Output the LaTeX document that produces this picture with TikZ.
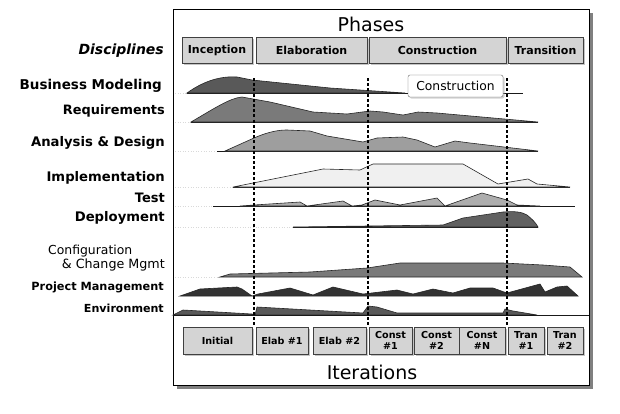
\documentclass[tikz,border=0pt]{standalone}
\usepackage{fontspec}
\setmainfont{DejaVu Sans}
\usetikzlibrary{shadows}
\begin{document}
\begin{tikzpicture}[x=1pt,y=-1pt,
  fs/.style={font=\fontsize{#1}{#1}\selectfont},
  fsb/.style={font=\bfseries\fontsize{#1}{#1}\selectfont},
  phasebox/.style={draw=black!75, line width=0.9pt, fill=black!17, minimum height=26pt, inner sep=0pt,
    fsb=11, drop shadow={shadow xshift=1.5pt,shadow yshift=-2pt,fill=black!45}},
  iterbox/.style={draw=black!75, line width=0.9pt, fill=black!17, minimum height=27pt, inner sep=0pt,
    align=center, font=\bfseries\fontsize{9.6}{10.5}\selectfont,
    drop shadow={shadow xshift=1.5pt,shadow yshift=-2pt,fill=black!45}},
  disc/.style={anchor=east, inner sep=0pt},
  vdash/.style={dash pattern=on 3pt off 2.2pt, line width=1.4pt},
  curve/.style={draw=black!85, line width=0.6pt},
  baseln/.style={draw=black!90, line width=0.8pt},
  faint/.style={draw=black!15, dotted, line width=0.6pt}
]
\useasboundingbox (0,0) rectangle (620,413);
% main frame with shadow
\fill[black!50] (177,13) rectangle (593,389);
\draw[line width=1pt, fill=white] (173,9) rectangle (589,385);

% titles
\node[fs=19] (phases) at (371,24) {Phases};
\node[fs=19] (iters) at (372,372) {Iterations};

% phase boxes
\node[phasebox, minimum width=70pt] (inc) at (217,50) {Inception};
\node[phasebox, minimum width=111pt] (ela) at (311.5,50) {Elaboration};
\node[phasebox, minimum width=137pt] (con) at (437.5,50) {Construction};
\node[phasebox, minimum width=75pt] (tra) at (545.5,50) {Transition};

% discipline labels
\node[disc, font=\bfseries\itshape\fontsize{14}{14}\selectfont] (ldisc) at (164,51) {Disciplines};
\node[disc, fsb=13.5] (lbm) at (162,86) {Business Modeling};
\node[disc, fsb=12.9] (lreq) at (165,111) {Requirements};
\node[disc, fsb=13.2] (lad) at (165,143) {Analysis \& Design};
\node[disc, fsb=13.2] (limp) at (165,178) {Implementation};
\node[disc, fsb=13] (ltest) at (165,198) {Test};
\node[disc, fsb=13.2] (ldep) at (165,218) {Deployment};
\node[anchor=west, inner sep=0pt, fs=12.4] (lcfg) at (48,251) {Configuration};
\node[disc, fs=12.7] (lcfg2) at (165,265) {\& Change Mgmt};
\node[disc, fsb=11.3] (lpm) at (164,287) {Project Management};
\node[disc, fsb=11.1] (lenv) at (164,308) {Environment};

% faint guide lines
\draw[faint] (175,93) -- (187,93);
\draw[faint] (175,122) -- (191,122);
\draw[faint] (175,151) -- (217,151);
\draw[faint] (175,187) -- (233,187);
\draw[faint] (175,206) -- (213,206);
\draw[faint] (175,227) -- (293,227);
\draw[faint] (175,277) -- (220,277);

% Business Modeling
\draw[baseln] (187,93) -- (523,93);
\filldraw[curve, fill=black!65] (187,93) .. controls (205,80) and (222,76) .. (237,77) -- (252,80) -- (330,88) -- (405,93) -- cycle;
% Requirements
\draw[baseln] (191,122) -- (538,122);
\filldraw[curve, fill=black!52] (191,122) .. controls (215,108) and (230,98) .. (242,97) -- (270,102) -- (313,112) -- (347,114) -- (370,111) -- (383,112) -- (403,115) -- (418,112) -- (437,113) -- (538,122) -- cycle;
% Analysis & Design
\draw[baseln] (217,151) -- (538,151);
\filldraw[curve, fill=black!38] (225,151) -- (254,138) .. controls (270,131) and (280,130) .. (287,130) -- (310,131) -- (327,136) -- (363,142) -- (377,138) -- (403,137) -- (417,140) -- (435,147) -- (455,141) -- (470,143) -- (538,151) -- cycle;
% Implementation
\draw[baseln] (233,187) -- (570,187);
\filldraw[curve, fill=black!6] (233,187) -- (323,169) -- (360,170) -- (373,164) -- (463,164) -- (498,184) -- (510,182) -- (528,179) -- (537,184) -- (570,187) -- cycle;
% Test
\draw[baseln] (213,206) -- (575,206);
\filldraw[curve, fill=black!32] (240,206) -- (254,205) -- (300,202) -- (307,206) -- (343,201) -- (352,206) -- (362,205) -- (375,200) -- (400,205) -- (437,198) -- (445,206) -- (482,193) -- (507,200) -- (517,205) -- (540,206) -- cycle;
% Deployment
\draw[baseln] (293,227) -- (538,227);
\filldraw[curve, fill=black!62] (293,227) -- (443,225) -- (463,218) -- (503,212) .. controls (515,211) and (522,212) .. (527,215) .. controls (532,219) and (536,223) .. (538,227) -- cycle;
% Configuration
\filldraw[curve, fill=black!52] (220,277) -- (230,274) -- (310,272) -- (367,268) -- (400,263) -- (503,263) -- (543,265) -- (570,267) -- (582,277) -- cycle;
% Project Management
\filldraw[curve, fill=black!80] (180,296) -- (200,289) -- (237,287) -- (242,289) -- (252,296) -- (258,294) -- (290,288) -- (313,295) -- (333,287) -- (363,294) -- (397,290) -- (413,294) -- (433,289) -- (453,293) -- (470,288) -- (493,288) -- (507,293) -- (540,284) -- (545,292) -- (557,287) -- (567,286) -- (578,296) -- cycle;
% Environment
\filldraw[curve, fill=black!65] (173,315) -- (183,310) -- (252,314) -- (255,315) -- (257,307) -- (363,313) -- (368,306) -- (377,307) -- (397,313) -- (503,313) -- (505,309) -- (513,311) -- (537,315) -- cycle;
\draw[baseln] (173,315) -- (589,315);

% dashed phase boundaries
\draw[vdash] (254,78) -- (254,327);
\draw[vdash] (368,78) -- (368,327);
\draw[vdash] (507,78) -- (507,327);

% tooltip
\node[draw=black!60, fill=white, rounded corners=2pt, minimum width=95pt, minimum height=22pt, inner sep=0pt, fs=12.3,
  drop shadow={shadow xshift=1.5pt,shadow yshift=-1.5pt,fill=black!35}] (tip) at (455.5,86) {Construction};

% iteration boxes
\node[iterbox, minimum width=69pt] (it0) at (217.5,340.5) {Initial};
\node[iterbox, minimum width=52pt] (it1) at (282,340.5) {Elab \#1};
\node[iterbox, minimum width=53pt] (it2) at (339.5,340.5) {Elab \#2};
\node[iterbox, minimum width=43pt] (it3) at (390.5,340.5) {Const\\\#1};
\node[iterbox, minimum width=45pt] (it4) at (436.5,340.5) {Const\\\#2};
\node[iterbox, minimum width=46pt] (it5) at (482,340.5) {Const\\\#N};
\node[iterbox, minimum width=36pt] (it6) at (526,340.5) {Tran\\\#1};
\node[iterbox, minimum width=36pt] (it7) at (565,340.5) {Tran\\\#2};
\end{tikzpicture}
\end{document}
